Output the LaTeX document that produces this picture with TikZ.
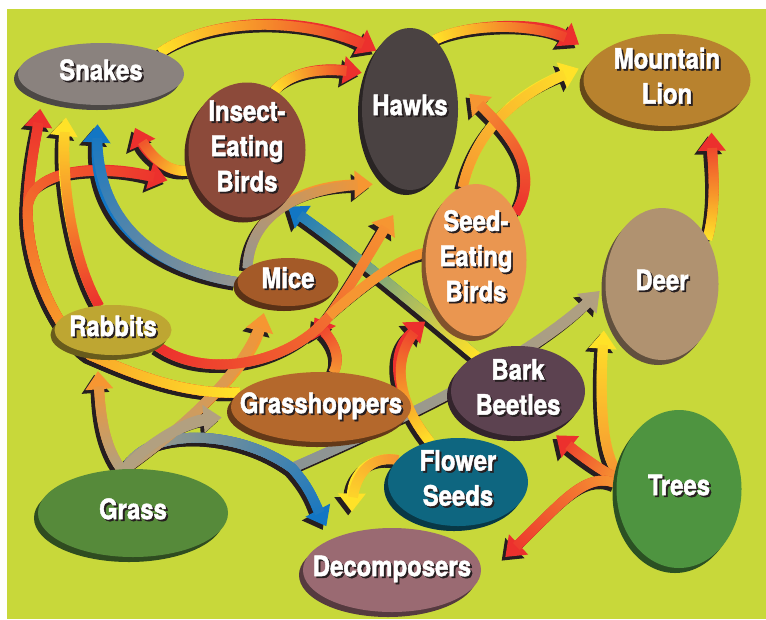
\documentclass[tikz,border=0pt]{standalone}
\usepackage{fontspec}
\newfontfamily\webfont[FakeStretch=0.85, BoldFeatures={FakeBold=1.6}]{TeX Gyre Heros}
\usetikzlibrary{arrows.meta,calc,positioning,shapes.geometric,decorations.markings}

\definecolor{field}{RGB}{200,216,58}
\definecolor{rim}{RGB}{38,30,32}
\definecolor{ylw}{RGB}{255,226,40}
\definecolor{org}{RGB}{246,150,50}
\definecolor{rd}{RGB}{236,48,45}
\definecolor{sand}{RGB}{178,160,128}
\definecolor{blu}{RGB}{18,118,196}
\definecolor{steel}{RGB}{118,142,160}
\definecolor{ash}{RGB}{150,150,145}

\definecolor{snakeC}{RGB}{138,130,126}
\definecolor{iebC}{RGB}{140,74,58}
\definecolor{hawkC}{RGB}{74,66,66}
\definecolor{lionC}{RGB}{184,130,46}
\definecolor{sebC}{RGB}{234,150,80}
\definecolor{deerC}{RGB}{176,146,112}
\definecolor{miceC}{RGB}{164,90,40}
\definecolor{rabC}{RGB}{190,166,50}
\definecolor{ghC}{RGB}{180,104,44}
\definecolor{bbC}{RGB}{92,66,80}
\definecolor{fsC}{RGB}{14,102,128}
\definecolor{treeC}{RGB}{78,148,64}
\definecolor{grassC}{RGB}{86,138,58}
\definecolor{decC}{RGB}{154,106,114}

\pgfdeclarelayer{back}
\pgfsetlayers{back,main}

\newcommand\wtxt[1]{\begin{tabular}{@{}c@{}}#1\end{tabular}}
\newcommand\sht[1]{\rlap{\kern1.3pt\raisebox{-1.3pt}{\color{rim}\wtxt{#1}}}\wtxt{#1}}

\tikzset{
  bandfill/.style n args={3}{postaction={decorate,decoration={markings,
      mark=between positions 0 and #3 step 1pt with {%
        \pgfmathsetmacro\mix{\pgfkeysvalueof{/pgf/decoration/mark info/distance from start}/\pgfdecoratedpathlength*100}%
        \fill[#2!\mix!#1] (-0.8pt,-3.5pt) rectangle (0.8pt,3.5pt);}}}},
  feed/.style 2 args={line width=7pt, draw=#2, -{Triangle[length=13pt,width=19pt,color=#2]},
    bandfill={#1}{#2}{-11pt}},
  feedplain/.style 2 args={line width=7pt, draw=#2, bandfill={#1}{#2}{1}},
  rimline/.style={line width=7pt, draw=rim, -{Triangle[length=13pt,width=19pt,color=rim]}},
  rimplain/.style={line width=7pt, draw=rim},
  critter/.style={ellipse, fill=#1, inner sep=0pt},
  wh/.style 2 args={minimum width=#1*0.025cm, minimum height=#2*0.025cm},
  lbl/.style={text=white, inner sep=0pt, font=\webfont\bfseries\fontsize{20}{25}\selectfont}
}

\begin{document}
\begin{tikzpicture}[x=0.025cm, y=-0.025cm]
\useasboundingbox (0,0) rectangle (766,619);

% shadows of the ellipses
\foreach \c/\x/\y/\w/\h in {snakeC/101/74/166/62, iebC/247/150/117/135, hawkC/410/109/96/162,
    lionC/667/80/167/92, sebC/476/260/101/152, deerC/662/284/113/152, miceC/288/282/101/48,
    rabC/113/330/117/50, ghC/321/407/180/70, bbC/518/391/134/90, fsC/458/482/140/88,
    treeC/679/489/125/158, grassC/133/513/190/88, decC/392/570/178/84}
  \node[critter=\c!55!black, wh={\w}{\h}] (sh-\c) at (\x-4,\y+5) {};

% animals and plants
\node[critter=snakeC, wh={166}{62}, label={[lbl]center:\sht{Snakes}}] (snk) at (101,74) {};
\node[critter=iebC, wh={117}{135}, label={[lbl]center:\sht{Insect-\\Eating\\Birds}}] (ieb) at (247,150) {};
\node[critter=hawkC, wh={96}{162}, label={[lbl]center:\sht{Hawks}}] (hawk) at (410,109) {};
\node[critter=lionC, wh={167}{92}, label={[lbl]center:\sht{Mountain\\Lion}}] (lion) at (667,80) {};
\node[critter=sebC, wh={101}{152}, label={[lbl]center:\sht{Seed-\\Eating\\Birds}}] (seb) at (476,260) {};
\node[critter=deerC, wh={113}{152}, label={[lbl]center:\sht{Deer}}] (deer) at (662,284) {};
\node[critter=miceC, wh={101}{48}, label={[lbl]center:\sht{Mice}}] (mice) at (288,282) {};
\node[critter=rabC, wh={117}{50}, label={[lbl]center:\sht{Rabbits}}] (rab) at (113,330) {};
\node[critter=ghC, wh={180}{70}, label={[lbl]center:\sht{Grasshoppers}}] (gh) at (321,407) {};
\node[critter=bbC, wh={134}{90}, label={[lbl]center:\sht{Bark\\Beetles}}] (bb) at (518,391) {};
\node[critter=fsC, wh={140}{88}, label={[lbl]center:\sht{Flower\\Seeds}}] (fs) at (458,482) {};
\node[critter=treeC, wh={125}{158}, label={[lbl]center:\sht{Trees}}] (trees) at (679,489) {};
\node[critter=grassC, wh={190}{88}, label={[lbl]center:\sht{Grass}}] (grass) at (133,513) {};
\node[critter=decC, wh={178}{84}, label={[lbl]center:\sht{Decomposers}}] (dec) at (392,570) {};

% links, prey to eater
\def\grassDeer{(grass.100) .. controls (150,425) and (240,430) .. (292,468) coordinate (jd)
  .. controls (390,425) and (530,360) .. ([shift={(-6,-3)}]deer.-170)}
\def\grassDec{(grass.100) .. controls (150,425) and (240,430) .. (jd)
  .. controls (312,490) and (315,505) .. ([shift={(-9,-11)}]dec.150)}
\def\grassRab{(grass.105) .. controls (100,440) and (100,400) .. ([shift={(-6,16)}]rab.-110)}
\def\grassMice{(grass.100) .. controls (180,430) and (250,370) .. ([shift={(-8,8)}]mice.-125)}
\def\grassGh{(grass.100) .. controls (150,440) and (190,420) .. ([shift={(-17,-4)}]gh.190)}
\def\treeDeer{(trees.165) .. controls (600,450) and (600,390) .. ([shift={(-10,6)}]deer.-140)}
\def\treeBb{(trees.170) .. controls (600,470) and (580,455) .. ([shift={(-4,9)}]bb.-40)}
\def\treeDec{(trees.175) .. controls (585,470) and (560,505) .. ([shift={(24,-13)}]dec.east)}
\def\fsDec{(fs.160) .. controls (370,455) and (352,475) .. ([shift={(-2,-20)}]dec.135)}
\def\fsSeb{(fs.125) .. controls (400,405) and (385,355) .. ([shift={(-11,14)}]seb.-130)}
\def\ghMice{(gh.70) .. controls (345,350) and (322,330) .. ([shift={(13,12)}]mice.-60)}
\def\ghSnk{(gh.170) .. controls (180,395) and (125,370) .. (90,355)
  .. controls (55,330) and (25,260) .. (28,205) .. controls (30,160) and (38,130) .. ([shift={(-1,13)}]snk.200)}
\def\ghIeb{(gh.170) .. controls (180,395) and (125,370) .. (90,355)
  .. controls (55,330) and (25,260) .. (28,205) .. controls (35,165) and (110,165) .. ([shift={(-27,0)}]ieb.210)}
\def\bbIeb{(bb.140) .. controls (414,304) and (351,251) .. ([shift={(0,8)}]ieb.-50)}
\def\rabSnk{(rab.120) .. controls (70,255) and (60,170) .. ([shift={(-1,15)}]snk.220)}
\def\rabHawk{(rab.-20) .. controls (205,380) and (290,365) .. (330,315) coordinate (jn)
  .. controls (355,280) and (380,235) .. ([shift={(-3,28)}]hawk.-100)}
\def\sebJoin{(jn) .. controls (370,280) and (400,258) .. (seb.172)}
\def\miceSnk{(mice.west) .. controls (160,270) and (92,225) .. ([shift={(1,19)}]snk.262)}
\def\miceHawk{(mice.160) .. controls (250,215) and (300,185) .. ([shift={(-12,6)}]hawk.-110)}
\def\iebSnk{(ieb.200) .. controls (165,175) and (145,150) .. ([shift={(9,24)}]snk.-50)}
\def\iebHawk{(ieb.65) .. controls (295,68) and (330,68) .. ([shift={(-5,0)}]hawk.140)}
\def\snkHawk{(snk.20) .. controls (220,12) and (320,20) .. (hawk.120)}
\def\hawkLion{(hawk.70) .. controls (470,22) and (545,22) .. ([shift={(-30,-2)}]lion.150)}
\def\sebLion{(seb.100) .. controls (478,120) and (530,88) .. ([shift={(-7,0)}]lion.172)}
\def\sebHawk{(seb.50) .. controls (545,165) and (500,125) .. ([shift={(12,2)}]hawk.20)}
\def\deerLion{(deer.45) .. controls (718,200) and (712,160) .. ([shift={(4,12)}]lion.-45)}

\begin{pgfonlayer}{back}
\fill[white] (0,0) rectangle (766,619);
\fill[field] (7,9) rectangle (766,619);

% dark edges
\begin{scope}[transform canvas={shift={(-2.6pt,-2.6pt)}}]
\draw[rimline] \grassDeer; \draw[rimline] \grassDec; \draw[rimline] \grassRab;
\draw[rimline] \grassMice; \draw[rimline] \grassGh;
\draw[rimline] \treeDeer; \draw[rimline] \treeBb; \draw[rimline] \treeDec;
\draw[rimline] \fsDec; \draw[rimline] \fsSeb; \draw[rimline] \ghMice;
\draw[rimline] \ghSnk; \draw[rimline] \ghIeb; \draw[rimline] \bbIeb;
\draw[rimline] \rabSnk; \draw[rimline] \rabHawk; \draw[rimplain] \sebJoin;
\draw[rimline] \miceSnk; \draw[rimline] \miceHawk;
\draw[rimline] \iebSnk; \draw[rimline] \iebHawk; \draw[rimline] \snkHawk;
\draw[rimline] \hawkLion; \draw[rimline] \sebLion; \draw[rimline] \sebHawk;
\draw[rimline] \deerLion;
\end{scope}

% grass
\draw[feed={steel}{sand}] \grassDeer;
\draw[feed={sand}{blu}] \grassDec;
\draw[feed={sand}{org}] \grassRab;
\draw[feed={sand}{org}] \grassMice;
\draw[feed={sand}{sand}] \grassGh;

% trees
\draw[feed={org}{ylw}] \treeDeer;
\draw[feed={org}{rd}] \treeBb;
\draw[feed={org}{rd}] \treeDec;

% flower seeds
\draw[feed={org}{ylw}] \fsDec;
\draw[feed={ylw}{rd}] \fsSeb;

% grasshoppers
\draw[feed={org}{rd}] \ghMice;
\draw[feed={ylw}{rd}] \ghSnk;
\draw[feed={ylw}{rd}] \ghIeb;

% bark beetles
\draw[feed={ylw}{blu}] \bbIeb;

% rabbits
\draw[feed={rd}{ylw}] \rabSnk;
\draw[feed={rd}{org}] \rabHawk;
\draw[feedplain={org}{org}] \sebJoin;

% mice
\draw[feed={ash}{blu}] \miceSnk;
\draw[feed={ash}{org}] \miceHawk;

% birds, snakes, deer
\draw[feed={ylw}{rd}] \iebSnk;
\draw[feed={ylw}{rd}] \iebHawk;
\draw[feed={ylw}{rd}] \snkHawk;
\draw[feed={ylw}{rd}] \hawkLion;
\draw[feed={org}{ylw}] \sebLion;
\draw[feed={rd}{org}] \sebHawk;
\draw[feed={ylw}{rd}] \deerLion;
\end{pgfonlayer}
\end{tikzpicture}
\end{document}
